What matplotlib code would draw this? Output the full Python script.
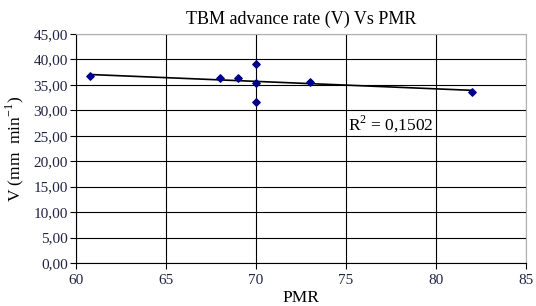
import matplotlib
matplotlib.use("Agg")
import matplotlib.pyplot as plt
import numpy as np
from matplotlib.ticker import FuncFormatter

pmr = [60.8, 68.0, 69.0, 70.0, 70.0, 70.0, 73.0, 82.0]
v = [36.7, 36.4, 36.4, 39.2, 35.4, 31.7, 35.6, 33.7]
x_ticks = [60, 65, 70, 75, 80, 85]
y_ticks = [0, 5, 10, 15, 20, 25, 30, 35, 40, 45]
title = "TBM advance rate (V) Vs PMR"
r2_label = "R$^2$ = 0,1502"

plt.rcParams['font.family'] = ['Liberation Serif', 'DejaVu Serif']
plt.rcParams['mathtext.fontset'] = 'custom'
plt.rcParams['mathtext.rm'] = 'Liberation Serif'

fig = plt.figure(figsize=(5.36, 3.06), dpi=100)
ax = fig.add_axes([76/536, 1-263/306, 450/536, 229/306])

ax.set_xlim(60, 85)
ax.set_ylim(0, 45)
ax.set_xticks(x_ticks)
ax.set_yticks(y_ticks)
ax.grid(True, color='black', linewidth=0.8)
ax.set_axisbelow(True)

coef = np.polyfit(pmr, v, 1)
xs = np.array([min(pmr), max(pmr)])
ax.plot(xs, np.polyval(coef, xs), color='black', linewidth=1.2, zorder=3)
ax.scatter(pmr, v, marker='D', s=14, color='#00008B', zorder=4)

ax.yaxis.set_major_formatter(FuncFormatter(lambda y, p: f"{y:.2f}".replace('.', ',')))
ax.tick_params(axis='both', labelsize=11, length=4, width=0.8, colors='black', labelcolor='#222244', pad=2)
ax.tick_params(axis='x', pad=4)
for s in ['top', 'right']:
    ax.spines[s].set_color('#b0b0b0')
for s in ['left', 'bottom']:
    ax.spines[s].set_color('black')

ax.text(75.1, 27.3, r2_label, fontsize=12.5, va='center', ha='left')
ax.set_title(title, fontsize=13, pad=7)
ax.set_xlabel("PMR", fontsize=12.5, labelpad=2)
ax.set_ylabel("V (mm  min$^{-1}$)", fontsize=12.5, labelpad=5)

fig.savefig("out.png", dpi=100)
